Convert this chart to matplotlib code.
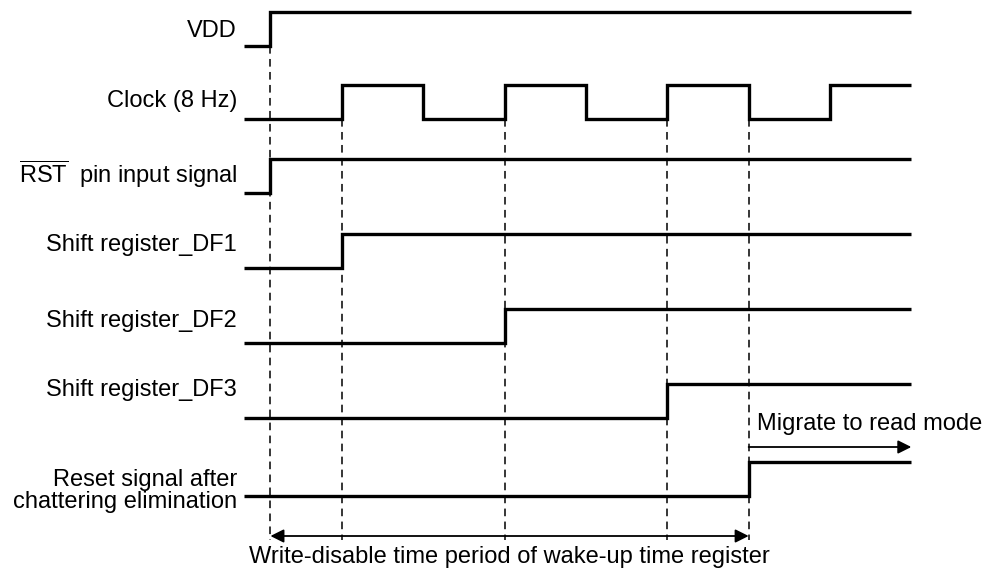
import matplotlib
matplotlib.use('Agg')
import matplotlib.pyplot as plt

plt.rcParams['font.family'] = ['Liberation Sans', 'DejaVu Sans']
plt.rcParams['mathtext.fontset'] = 'custom'
plt.rcParams['mathtext.rm'] = 'Liberation Sans'

# time axis in ms, 0 = first rising clock edge (8 Hz -> half period 62.5 ms)
t_start = -75.0
t_end = 437.5
half_period = 62.5

signal_names = [
    "VDD",
    "Clock (8 Hz)",
    "$\\overline{\\mathrm{RST}}$  pin input signal",
    "Shift register_DF1",
    "Shift register_DF2",
    "Shift register_DF3",
    "Reset signal after\nchattering elimination",
]
# edge times (ms); every signal starts low
vdd_edges = [-55.0]
clock_edges = [0.0, 62.5, 125.0, 187.5, 250.0, 312.5, 375.0]
rst_edges = [-55.0]
df1_edges = [0.0]
df2_edges = [125.0]
df3_edges = [250.0]
reset_edges = [312.5]
signal_edges = [vdd_edges, clock_edges, rst_edges, df1_edges, df2_edges, df3_edges, reset_edges]

marker_times = [-55.0, 0.0, 125.0, 250.0, 312.5]

# layout (pixels, figure is 988 x 571)
row_base = [46, 119, 193, 268, 343, 418, 496]
label_y = [31, 101, 174, 245, 321, 390, 491]
amp = 34
px_per_ms = 81.33 / half_period
x0_px = 342
fs = 17

fig = plt.figure(figsize=(9.88, 5.71), dpi=100)
ax = fig.add_axes([0, 0, 1, 1])
ax.set_xlim(-x0_px / px_per_ms, (988 - x0_px) / px_per_ms)
ax.set_ylim(571, 0)
ax.axis('off')


def waveform(edges, base):
    xs, ys = [t_start], [base]
    level = 0
    for e in edges:
        xs += [e, e]
        ys += [base - amp * level, base - amp * (1 - level)]
        level = 1 - level
    xs.append(t_end)
    ys.append(base - amp * level)
    return xs, ys


label_x = (237 - x0_px) / px_per_ms
for i, (name, edges) in enumerate(zip(signal_names, signal_edges)):
    xs, ys = waveform(edges, row_base[i])
    ax.plot(xs, ys, color='black', lw=2.4, solid_joinstyle='miter', solid_capstyle='butt')
    ax.text(label_x, label_y[i], name, ha='right', va='center', fontsize=fs,
            linespacing=1.0)

# dashed marker lines
for j, t in enumerate(marker_times):
    top = row_base[0] if j == 0 else row_base[1]
    ax.plot([t, t], [top, 540], color='black', lw=1.1, ls=(0, (5, 3.5)))

# write-disable period
ax.annotate('', xy=(marker_times[0], 536), xytext=(marker_times[-1], 536),
            arrowprops=dict(arrowstyle='<|-|>', color='black', lw=1.3, mutation_scale=20,
                            shrinkA=0, shrinkB=0))
ax.text((marker_times[0] + marker_times[-1]) / 2, 557,
        "Write-disable time period of wake-up time register",
        ha='center', va='center', fontsize=fs)

# migrate to read mode
ax.annotate('', xy=(t_end, 447), xytext=(marker_times[-1], 447),
            arrowprops=dict(arrowstyle='-|>', color='black', lw=1.3, mutation_scale=20,
                            shrinkA=0, shrinkB=0))
ax.text(marker_times[-1] + 8 / px_per_ms, 424, "Migrate to read mode",
        ha='left', va='center', fontsize=fs)

fig.savefig('out.png', dpi=100)
